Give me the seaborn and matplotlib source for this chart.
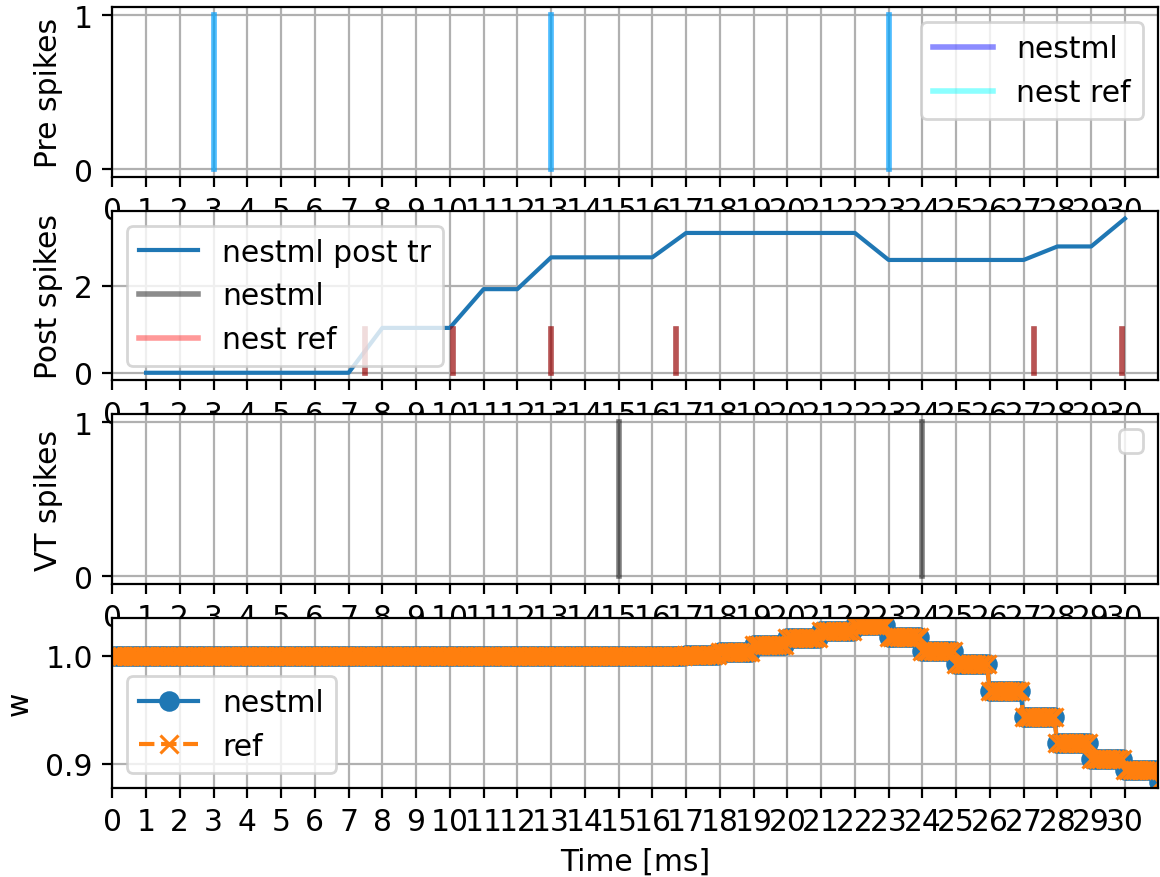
import numpy as np
import pandas as pd
import matplotlib
matplotlib.use("Agg")
import matplotlib.pyplot as plt
import seaborn as sns

# ---------------- data ----------------
pre_spike_times = [3.0, 13.0, 23.0]
post_spike_times = [7.5, 10.1, 13.0, 16.7, 27.3, 29.9]
vt_spike_times = [15.0, 24.0]

post_tr_times = list(range(1, 31))
post_tr_values = [0, 0, 0, 0, 0, 0, 0, 1.03, 1.03, 1.03,
                  1.92, 1.92, 2.65, 2.65, 2.65, 2.65, 3.21, 3.21, 3.21, 3.21,
                  3.21, 3.21, 2.59, 2.59, 2.59, 2.59, 2.59, 2.90, 2.90, 3.54]

# weight level held during each 1 ms interval [k, k+1), k = 0..30
w_levels = [1.0] * 17 + [1.001, 1.0035, 1.0102, 1.0165, 1.0233, 1.0285,
                         1.0171, 1.0045, 0.9925, 0.9677, 0.9429, 0.9189,
                         0.9047, 0.8938]
w_last_time = 31.0
w_last_value = 0.883
w_dt = 0.1

x_ticks = list(range(31))
x_lim = (0.0, 30.97)

# build sampled weight trace (samples every 0.1 ms, held per interval)
samples_per_ms = 10
w_times = np.round(np.arange(len(w_levels) * samples_per_ms) * w_dt, 2)
w_vals = np.repeat(w_levels, samples_per_ms)
w_times = np.append(w_times, w_last_time)
w_vals = np.append(w_vals, w_last_value)
df_w = pd.DataFrame({"t": w_times, "w": w_vals})
df_tr = pd.DataFrame({"t": post_tr_times, "tr": post_tr_values})

plt.rcParams["font.size"] = 10.7

# ---------------- figure ----------------
fig = plt.figure(figsize=(5.8, 4.39), dpi=200)
gs = fig.add_gridspec(4, 1, left=0.0968, right=0.998, top=0.9905,
                      bottom=0.1019, hspace=0.2)
ax1 = fig.add_subplot(gs[0])
ax2 = fig.add_subplot(gs[1])
ax3 = fig.add_subplot(gs[2])
ax4 = fig.add_subplot(gs[3])

A = 0.45
SPK_LW = 2.0

# Panel 1: pre spikes
for i, t in enumerate(pre_spike_times):
    ax1.plot([t, t], [0, 1], color="blue", alpha=A, lw=SPK_LW,
             label="nestml" if i == 0 else None)
for i, t in enumerate(pre_spike_times):
    ax1.plot([t, t], [0, 1], color="cyan", alpha=A, lw=SPK_LW,
             label="nest ref" if i == 0 else None)
ax1.set_ylabel("Pre spikes")
ax1.set_yticks([0, 1])
ax1.legend(loc="upper right")

# Panel 2: post spikes + trace
sns.lineplot(data=df_tr, x="t", y="tr", ax=ax2, color="C0",
             label="nestml post tr", estimator=None, errorbar=None)
for i, t in enumerate(post_spike_times):
    ax2.plot([t, t], [0, 1], color="black", alpha=A, lw=SPK_LW,
             label="nestml" if i == 0 else None)
for i, t in enumerate(post_spike_times):
    ax2.plot([t, t], [0, 1], color="red", alpha=0.4, lw=SPK_LW,
             label="nest ref" if i == 0 else None)
ax2.set_ylabel("Post spikes")
ax2.set_yticks([0, 2])
ax2.legend(loc="upper left")

# Panel 3: VT spikes
for t in vt_spike_times:
    ax3.plot([t, t], [0, 1], color="black", alpha=0.5, lw=SPK_LW)
ax3.set_ylabel("VT spikes")
ax3.set_yticks([0, 1])
ax3.legend(handles=[], loc="upper right")

# Panel 4: weight
sns.lineplot(data=df_w, x="t", y="w", ax=ax4, color="C0", marker="o",
             markersize=6.4, markeredgecolor="C0", markeredgewidth=1.0,
             label="nestml", estimator=None, errorbar=None, sort=False)
sns.lineplot(data=df_w, x="t", y="w", ax=ax4, color="C1", marker="x",
             markersize=6.4, markeredgecolor="C1", markeredgewidth=1.1,
             linestyle="--", label="ref", estimator=None, errorbar=None,
             sort=False)
ax4.set_ylabel("w")
ax4.set_yticks([0.9, 1.0])
ax4.set_ylim(0.8778, 1.0352)
ax4.set_xlabel("Time [ms]")
ax4.legend(loc="lower left")

for ax in (ax1, ax2, ax3, ax4):
    ax.set_xticks(x_ticks)
    ax.set_xlim(*x_lim)
    ax.grid(True)
for ax in (ax1, ax2, ax3):
    ax.set_xlabel("")

fig.savefig("out.png", dpi=200)
